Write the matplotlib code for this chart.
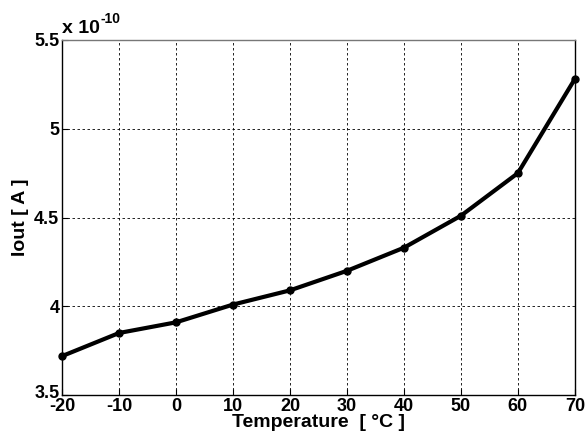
import matplotlib
matplotlib.use("Agg")
import matplotlib.pyplot as plt
import matplotlib.transforms as mtransforms

temperature = [-20, -10, 0, 10, 20, 30, 40, 50, 60, 70]
iout_e10 = [3.72, 3.85, 3.91, 4.01, 4.09, 4.20, 4.33, 4.51, 4.75, 5.28]  # x 1e-10 A
xticks = [-20, -10, 0, 10, 20, 30, 40, 50, 60, 70]
yticks = [3.5, 4, 4.5, 5, 5.5]
ytick_labels = ["3.5", "4", "4.5", "5", "5.5"]

plt.rcParams['font.family'] = ['Liberation Sans', 'DejaVu Sans']
plt.rcParams['font.weight'] = 'bold'
plt.rcParams['axes.unicode_minus'] = False

fig = plt.figure(figsize=(5.86, 4.43), dpi=100)
ax = fig.add_axes([0.106, 0.108, 0.875, 0.802])
ax.plot(temperature, iout_e10, color='black', lw=3, marker='o', ms=5, clip_on=False, zorder=3)
ax.set_xlim(-20, 70)
ax.set_ylim(3.5, 5.5)
ax.set_xticks(xticks)
ax.set_yticks(yticks)
ax.set_yticklabels(ytick_labels)
ax.grid(True, color='black', linestyle=(0, (3, 3)), linewidth=0.6)
ax.tick_params(direction='in', labelsize=13, length=4)
ax.tick_params(axis='x', pad=2)
ax.tick_params(axis='y', pad=2)
for lbl in ax.get_xticklabels() + ax.get_yticklabels():
    lbl.set_fontweight('bold')
# lift the bottom y tick label a little so it sits above the "-20" label
first = ax.get_yticklabels()[0]
first.set_transform(first.get_transform() + mtransforms.ScaledTranslation(0, 4 / 100, fig.dpi_scale_trans))
ax.set_xlabel('Temperature  [ \u00b0C ]', fontsize=14, fontweight='bold', labelpad=-1)
ax.set_ylabel('Iout [ A ]', fontsize=14, fontweight='bold')
ax.yaxis.set_label_coords(-0.065, 0.5)
for s in ax.spines.values():
    s.set_linewidth(1)
ax.spines['top'].set_color('#777777')
base = ax.text(0.0, 1.008, 'x 10', transform=ax.transAxes, fontsize=14,
               fontweight='bold', ha='left', va='bottom')
ax.annotate('-10', xy=(1, 1), xycoords=base, xytext=(0.5, -4), textcoords='offset points',
            fontsize=10, fontweight='bold', ha='left', va='bottom')
fig.savefig('out.png', dpi=100)
